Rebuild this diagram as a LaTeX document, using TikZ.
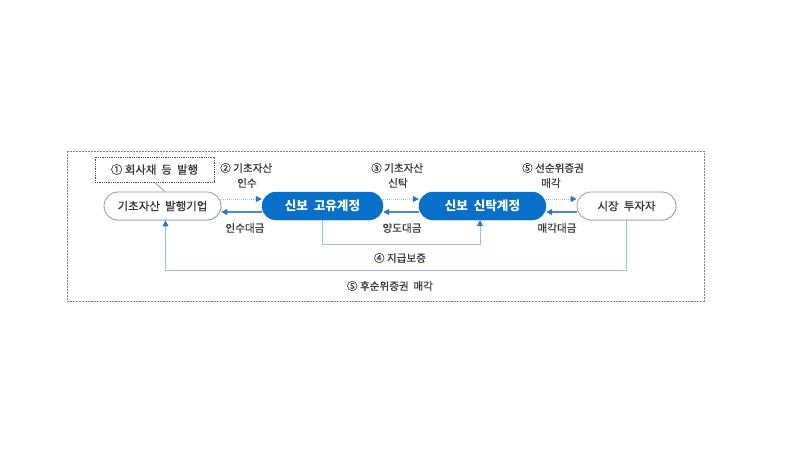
\documentclass[tikz,border=0pt]{standalone}
\usepackage{fontspec}
\setmainfont{Noto Sans CJK KR}
\newfontfamily\medfont[FakeBold=0.6]{Noto Sans CJK KR}
\usetikzlibrary{arrows.meta,shapes.misc,shadows}
\definecolor{sbblue}{RGB}{8,112,200}
\definecolor{lnblue}{RGB}{150,190,228}
\definecolor{arblue}{RGB}{40,120,200}
\definecolor{midblue}{RGB}{70,140,210}
\definecolor{txtgray}{RGB}{55,55,55}
\definecolor{frgray}{RGB}{130,130,130}
\tikzset{
  graynode/.style={rounded rectangle, draw=frgray!80, line width=0.8pt, fill=white,
    minimum height=28pt, inner xsep=2pt, text=txtgray, font=\medfont\fontsize{11.5}{13}\selectfont,
    drop shadow={shadow xshift=0.6pt, shadow yshift=-0.8pt, opacity=0.25}},
  bluenode/.style={rounded rectangle, draw=sbblue, fill=sbblue, minimum height=28pt,
    inner xsep=2pt, text=white, font=\fontsize{12.6}{14}\selectfont\bfseries},
  lbl/.style={text=txtgray, font=\medfont\fontsize{10.6}{12}\selectfont, inner sep=0pt},
  fwd/.style={lnblue, line width=1pt, densely dotted, -{Triangle[length=6pt,width=6pt,color=arblue]}},
  bwd/.style={midblue, line width=1.1pt, -{Triangle[length=6pt,width=6pt,color=arblue]}},
  lpath/.style={lnblue, line width=0.9pt, -{Triangle[length=6pt,width=6pt,color=arblue]}}
}
\begin{document}
\begin{tikzpicture}[x=1pt,y=-1pt]
\useasboundingbox (0,0) rectangle (800,467);
\fill[white] (0,0) rectangle (800,467);
% outer frame
\draw[frgray, line width=0.8pt, dash pattern=on 2pt off 1pt] (67,151) rectangle (704,301);
% nodes
\node[draw=black!70, line width=0.8pt, densely dotted, minimum width=119pt, minimum height=25pt,
  inner xsep=1pt, text=txtgray, font=\medfont\fontsize{11.4}{13}\selectfont] (box) at (154.5,169.5) {①\ 회사채\ \ 등\ \ 발행};
\node[graynode, minimum width=121pt] (n1) at (162.5,206) {기초자산\ \ 발행기업};
\node[bluenode, minimum width=125pt] (n2) at (322.5,206) {신보\ \ 고유계정};
\node[bluenode, minimum width=131pt] (n3) at (482.5,206) {신보\ \ 신탁계정};
\node[graynode, minimum width=103pt] (n4) at (626.5,206) {시장\ \ 투자자};
% labels
\node[lbl, anchor=west] (l2a) at (220,168) {②\ 기초자산};
\node[lbl, anchor=west] (l2b) at (237,183) {인수};
\node[lbl, anchor=west] (l3a) at (371,168) {③\ 기초자산};
\node[lbl, anchor=west] (l3b) at (388,183) {신탁};
\node[lbl, anchor=west] (l5a) at (522,168) {⑤\ 선순위증권};
\node[lbl, anchor=west] (l5b) at (541,183) {매각};
\node[lbl] (l2c) at (245,228) {인수대금};
\node[lbl] (l3c) at (402,228) {양도대금};
\node[lbl] (l5c) at (557,228) {매각대금};
\node[lbl] (l4) at (400,258) {④\ 지급보증};
\node[lbl] (l6) at (390,286) {⑤\ 후순위증권\ \ 매각};
% connectors
\draw[frgray!80, line width=0.7pt] (box.south) -- ([xshift=2.5pt]n1.north);
\draw[fwd] ([yshift=7pt]n1.east) -- ([yshift=7pt]n2.west);
\draw[bwd] ([yshift=-6pt]n2.west) -- ([yshift=-6pt]n1.east);
\draw[fwd] ([yshift=7pt]n2.east) -- ([yshift=7pt]n3.west);
\draw[bwd] ([yshift=-6pt]n3.west) -- ([yshift=-6pt]n2.east);
\draw[fwd] ([yshift=7pt]n3.east) -- ([yshift=7pt]n4.west);
\draw[bwd] ([yshift=-6pt]n4.west) -- ([yshift=-6pt]n3.east);
\coordinate (g) at (0,244);
\coordinate (h) at (0,270);
\draw[lpath] (n2.south) -- (n2.south |- g) -| ([xshift=-2.5pt]n3.south);
\draw[lpath] (n4.south) -- (n4.south |- h) -| ([xshift=3pt]n1.south);
\end{tikzpicture}
\end{document}
